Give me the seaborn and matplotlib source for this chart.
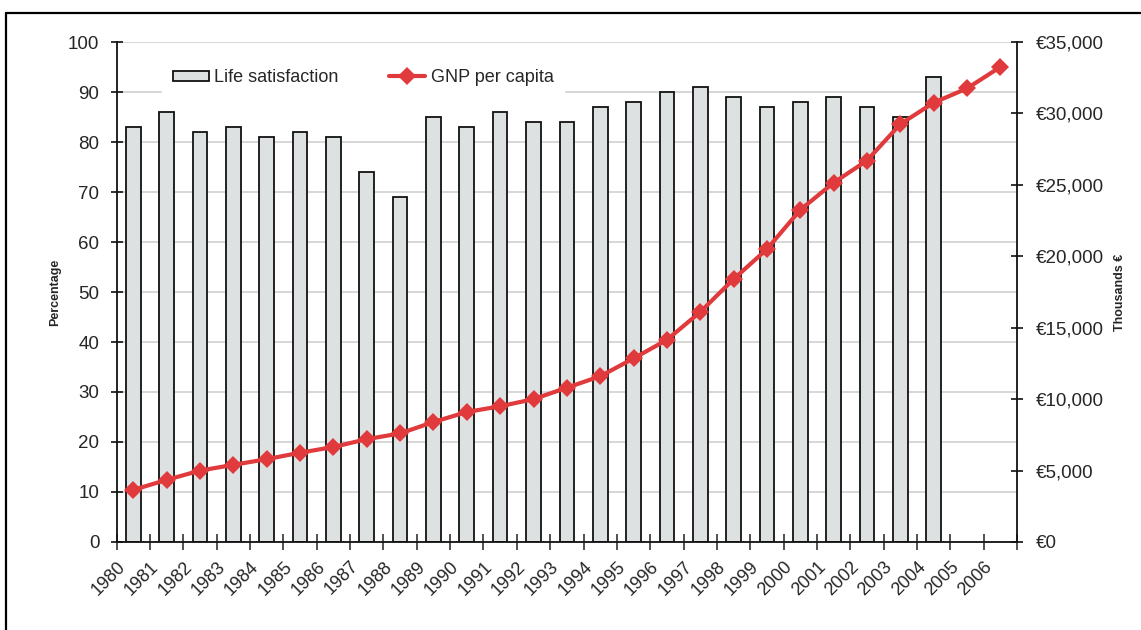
import matplotlib.pyplot as plt
import numpy as np
import pandas as pd
import seaborn as sns
from matplotlib.lines import Line2D
from matplotlib.ticker import FuncFormatter, MultipleLocator

years = [str(y) for y in range(1980, 2007)]
life_satisfaction = [83, 86, 82, 83, 81, 82, 81, 74, 69, 85, 83, 86, 84, 84, 87,
                     88, 90, 91, 89, 87, 88, 89, 87, 85, 93]
gnp_per_capita = [3650, 4350, 5000, 5400, 5800, 6250, 6650, 7200, 7600, 8400,
                  9100, 9500, 10000, 10800, 11600, 12850, 14150, 16100, 18400,
                  20500, 23250, 25150, 26700, 29250, 30750, 31750, 33250]

bar_df = pd.DataFrame({"year": years[: len(life_satisfaction)],
                       "life": life_satisfaction})

sns.set_theme(style="white")
plt.rcParams["font.family"] = ["Liberation Sans", "DejaVu Sans"]

fig = plt.figure(figsize=(11.41, 6.30), dpi=100)
ax = fig.add_axes([0.1023, 0.1397, 0.7890, 0.7936])

sns.barplot(data=bar_df, x="year", y="life", order=years, ax=ax, width=0.44,
            color="#DEE1E1", edgecolor="#111111", linewidth=1.3, saturation=1,
            label="Life satisfaction", zorder=2)
if ax.get_legend() is not None:
    ax.get_legend().remove()

ax.set_ylim(0, 100)
ax.set_xlim(-0.5, len(years) - 0.5)
ax.yaxis.set_major_locator(MultipleLocator(10))
ax.grid(axis="y", color="#D4D4D4", linewidth=1.3, zorder=0)
ax.set_axisbelow(True)
ax.set_ylabel("Percentage", fontsize=9, fontweight="bold", labelpad=5)
ax.set_xlabel("")

# year labels sit on the category boundaries, like the Excel original
ax.set_xticks(np.arange(len(years) + 1) - 0.5)
ax.set_xticklabels(years + [""], rotation=45, ha="right",
                   rotation_mode="anchor", fontsize=13)
ax.tick_params(axis="x", direction="inout", length=11, width=1.2,
               color="#333333", pad=6, bottom=True)
ax.tick_params(axis="y", direction="inout", length=9, width=1.2,
               color="#111111", pad=8, labelsize=13.5, left=True)

for side in ["left", "bottom"]:
    ax.spines[side].set_color("#111111")
    ax.spines[side].set_linewidth(1.3)
ax.spines["top"].set_visible(False)
ax.spines["right"].set_visible(False)

ax2 = ax.twinx()
sns.lineplot(x=np.arange(len(years)), y=gnp_per_capita, ax=ax2, color="#E03A3C",
             linewidth=3, marker="D", markersize=9, markeredgewidth=0,
             label="GNP per capita", legend=False, zorder=3)
ax2.set_ylim(0, 35000)
ax2.set_xlim(-0.5, len(years) - 0.5)
ax2.yaxis.set_major_locator(MultipleLocator(5000))
ax2.yaxis.set_major_formatter(FuncFormatter(lambda v, p: f"€{v:,.0f}"))
ax2.set_ylabel("Thousands €", fontsize=9, fontweight="bold", labelpad=7)
ax2.tick_params(axis="y", direction="inout", length=9, width=1.2,
                color="#111111", pad=9, labelsize=13.5, right=True)
ax2.grid(False)
for side in ["left", "top", "bottom"]:
    ax2.spines[side].set_visible(False)
ax2.spines["right"].set_color("#111111")
ax2.spines["right"].set_linewidth(1.3)

h1, l1 = ax.get_legend_handles_labels()
h2, l2 = ax2.get_legend_handles_labels()
leg = ax2.legend(h1 + h2, l1 + l2, loc="upper left", bbox_to_anchor=(0.04, 0.985),
                 ncol=2, fontsize=13, frameon=True, facecolor="white",
                 edgecolor="white", framealpha=1, fancybox=False,
                 handlelength=2.0, handleheight=0.55, handletextpad=0.3,
                 columnspacing=2.8, borderpad=0.6)

# outer frame of the original page snippet
fig.add_artist(Line2D([0.0053, 0.0053], [0, 0.979], transform=fig.transFigure,
                      color="black", linewidth=1.6))
fig.add_artist(Line2D([0.0053, 1.0], [0.979, 0.979], transform=fig.transFigure,
                      color="black", linewidth=1.6))

fig.savefig("out.png", dpi=100)
